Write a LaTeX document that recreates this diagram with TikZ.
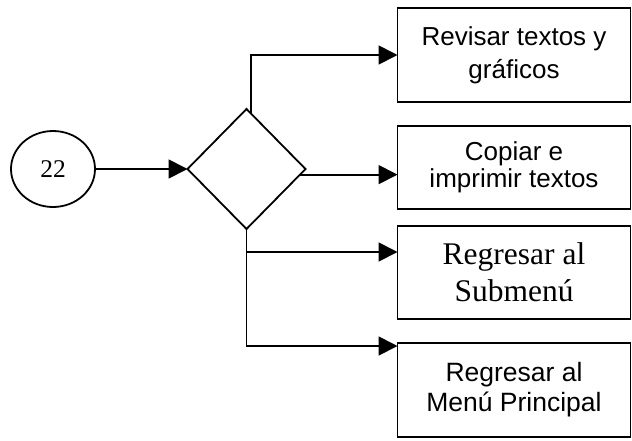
\documentclass[tikz,border=0pt]{standalone}
\usepackage{fontspec}
\newfontfamily\fArial{Liberation Sans}
\newfontfamily\fTimes{Liberation Serif}
\usetikzlibrary{shapes.geometric,arrows.meta}
\tikzset{
  conn/.style={line width=1.8pt,-{Triangle[length=19pt,width=19pt]}},
  box/.style={draw,line width=1.8pt,rectangle,minimum width=233pt,inner sep=0pt,outer sep=0pt,align=center},
}
\begin{document}
\begin{tikzpicture}[x=1pt,y=-1pt]
\useasboundingbox (0,0) rectangle (632,440);
\node[draw,line width=1.8pt,ellipse,minimum width=84pt,minimum height=76pt,inner sep=0pt,outer sep=0pt,font=\fTimes\fontsize{25.5}{30}\selectfont] (e) at (53,169) {22};
\node[draw,line width=1.8pt,diamond,minimum width=118pt,minimum height=120pt,inner sep=0pt,outer sep=0pt] (d) at (246.5,169) {};
\node[box,minimum height=94pt,font=\fArial\fontsize{26}{33}\selectfont] (b1) at (514,55) {Revisar textos y\\gráficos};
\node[box,minimum height=83pt,font=\fArial\fontsize{26}{27}\selectfont] (b2) at (514,167.5) {Copiar e\\imprimir textos};
\node[box,minimum height=93pt,font=\fTimes\fontsize{31.5}{37}\selectfont] (b3) at (514,272.5) {Regresar al\\Submenú};
\node[box,minimum height=94pt,font=\fArial\fontsize{26.5}{30}\selectfont] (b4) at (514,390) {Regresar al\\Menú Principal};
\coordinate (t3) at ([yshift=-26pt]b3.north west);
\coordinate (t4) at ([yshift=-3pt]b4.north west);
\draw[conn] (e.east) -- (d.west);
\draw[conn] (d.85.4) |- (b1.west);
\draw[conn] (d.-6.4) -- (d.-6.4 -| b2.west);
\draw[conn] (d.south) |- (t4);
\draw[conn] (t3 -| d.south) -- (t3);
\end{tikzpicture}
\end{document}
